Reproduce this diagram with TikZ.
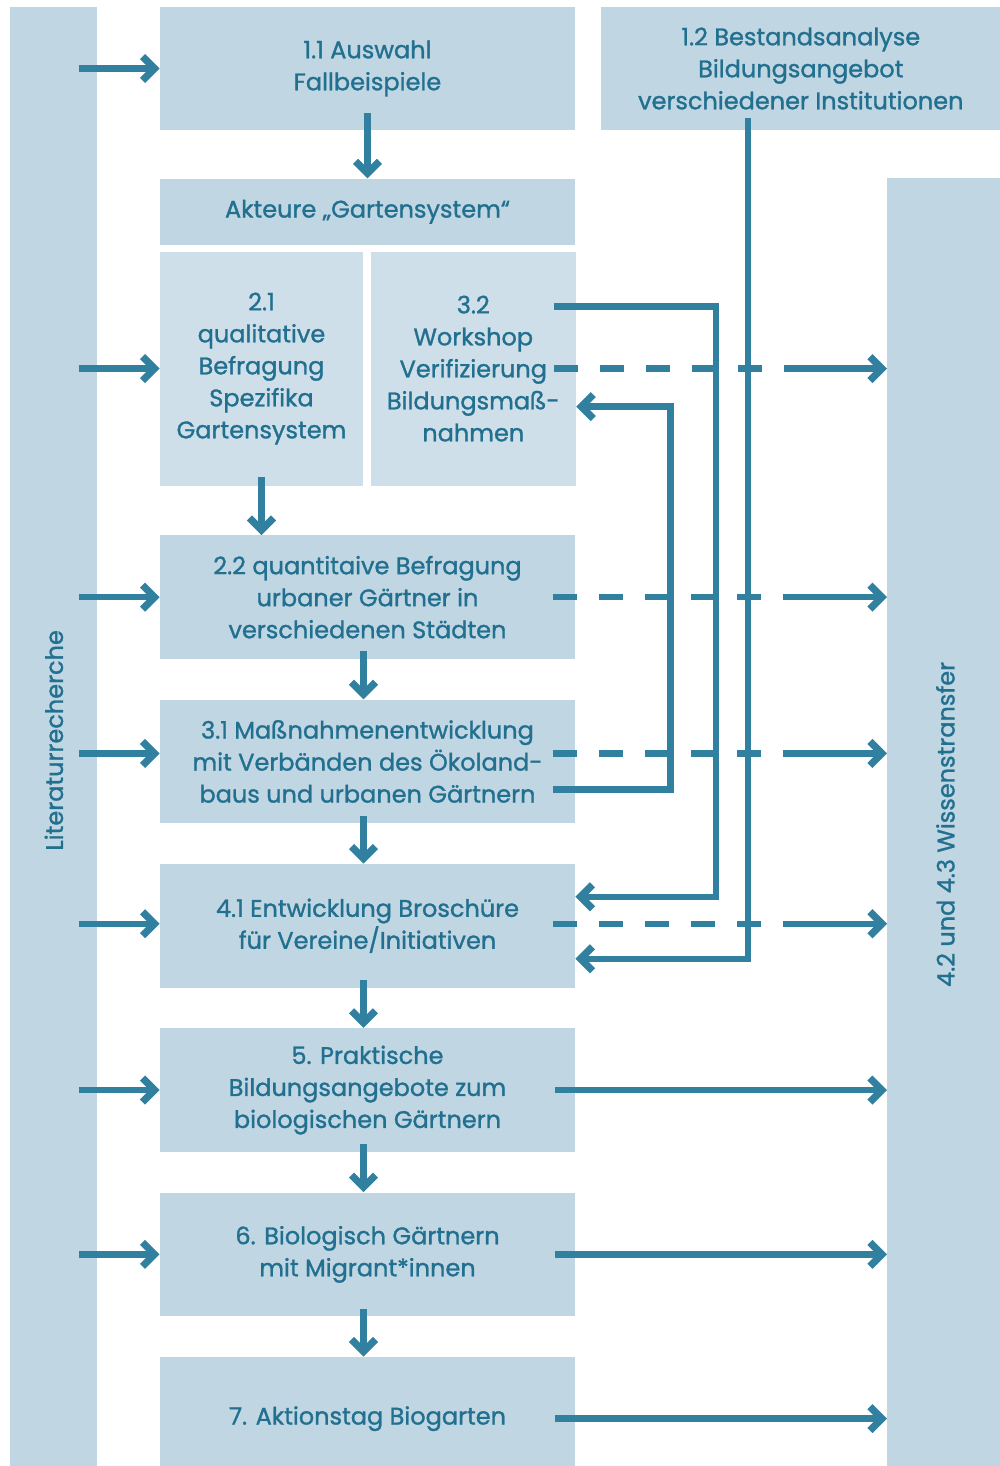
\documentclass[tikz,border=0pt]{standalone}
\usepackage{fontspec}
\setmainfont{Poppins}[FakeBold=1.2]
\usepackage{xcolor}
\usepackage{tikz}
\usetikzlibrary{positioning,calc,arrows.meta}

\definecolor{boxblue}{HTML}{C1D6E3}
\definecolor{boxlight}{HTML}{CFDFE9}
\definecolor{flowblue}{HTML}{3180A0}
\definecolor{textblue}{HTML}{22708F}

\tikzset{
    box/.style={fill=boxblue, inner sep=0pt, align=center, text=textblue, font=\fontsize{12}{16}\selectfont},
    lightbox/.style={box, fill=boxlight},
    wpbox/.style={box, minimum width=207.5pt, minimum height=61.75pt},
    flow/.style={line width=3.2pt, draw=flowblue, -{Straight Barb[length=6pt,width=12pt,line width=3.6pt]}},
    dashflow/.style={line width=3.2pt, draw=flowblue, dash pattern=on 12pt off 11pt},
}

\begin{document}
\begin{tikzpicture}[x=0.5pt, y=-0.5pt]
    \useasboundingbox (0,0) rectangle (1000,1466);

    % Side bars
    \node[box, anchor=north west, minimum width=43.5pt, minimum height=733pt] (lit) at (10,7) {\rotatebox{90}{Literaturrecherche}};
    \node[box, anchor=north west, minimum width=58pt, minimum height=646pt] (wiss) at (887,178) {\rotatebox{90}{4.2 und 4.3 Wissenstransfer}};

    % Work packages
    \node[box, minimum width=207.5pt, minimum height=61.5pt] (fall) at (367.5,68.5) {1.1 Auswahl\\Fallbeispiele};
    \node[box, right=12.5pt of fall, minimum width=200pt, minimum height=61.5pt] (bestand) {1.2 Bestandsanalyse\\Bildungsangebot\\verschiedener Institutionen};
    \node[box, below=24pt of fall, minimum width=207.5pt, minimum height=33pt] (akteure) {Akteure „Gartensystem“};
    \node[lightbox, anchor=north west, minimum width=101.5pt, minimum height=117pt] (quali) at ([yshift=-3pt]akteure.south west) {2.1\\qualitative\\Befragung\\Spezifika\\Gartensystem};
    \node[lightbox, right=3.5pt of quali, minimum width=102.5pt, minimum height=117pt] (workshop) {3.2\\Workshop\\Verifizierung\\Bildungsmaß-\\nahmen};
    \coordinate (mid) at (akteure.south |- quali.south);
    \node[wpbox, below=24.5pt of mid] (quanti) {2.2 quantitaive Befragung\\urbaner Gärtner in\\verschiedenen Städten};
    \node[wpbox, below=20pt of quanti] (massn) {3.1 Maßnahmenentwicklung\\mit Verbänden des Ökoland-\\baus und urbanen Gärtnern};
    \node[wpbox, below=20pt of massn] (brosch) {4.1 Entwicklung Broschüre\\für Vereine/Initiativen};
    \node[wpbox, below=20pt of brosch] (praxis) {5. Praktische\\Bildungsangebote zum\\biologischen Gärtnern};
    \node[wpbox, below=20pt of praxis] (migrant) {6. Biologisch Gärtnern\\mit Migrant*innen};
    \node[wpbox, below=20pt of migrant] (aktion) {7. Aktionstag Biogarten};

    % Sequence
    \draw[flow] ($(fall.south)+(0,-17)$) -- (akteure.north);
    \draw[flow] ($(quali.south)+(0,-9)$) -- (quali.south |- quanti.north);
    \foreach \a/\b in {quanti/massn, massn/brosch, brosch/praxis, praxis/migrant, migrant/aktion} {
        \draw[flow] ($(\a.south)+(-4,-8)$) -- ($(\b.north)+(-4,0)$);
    }

    % Literature input
    \foreach \n/\dy in {fall/0, quali/0, quanti/0, massn/-8, brosch/-2, praxis/0, migrant/0} {
        \coordinate (l) at ($(lit.east |- \n.west)+(0,\dy)$);
        \draw[flow] ($(l)+(-19,0)$) -- (l -| \n.west);
    }

    % Feedback loops
    \draw[flow] ($(workshop.east)+(-22,-62)$) -- ++(162,0) |- ($(brosch.east)+(0,-29)$);
    \draw[flow] ($(massn.east)+(-22,28)$) -- ++(117,0) |- ($(workshop.east)+(0,38)$);
    \draw[flow] ($(bestand.south)+(-53,-12)$) |- ($(brosch.east)+(0,33)$);

    % Knowledge transfer
    \foreach \n/\dy in {workshop/0, quanti/0, massn/-8, brosch/-2} {
        \coordinate (r) at ($(\n.east)+(0,\dy)$);
        \draw[dashflow] ($(r)+(-22,0)$) -- ($(r)+(186,0)$);
        \draw[flow] ($(r)+(208,0)$) -- (wiss.west |- r);
    }
    \foreach \n in {praxis, migrant, aktion} {
        \draw[flow] ($(\n.east)+(-20,0)$) -- (wiss.west |- \n.east);
    }
\end{tikzpicture}
\end{document}
